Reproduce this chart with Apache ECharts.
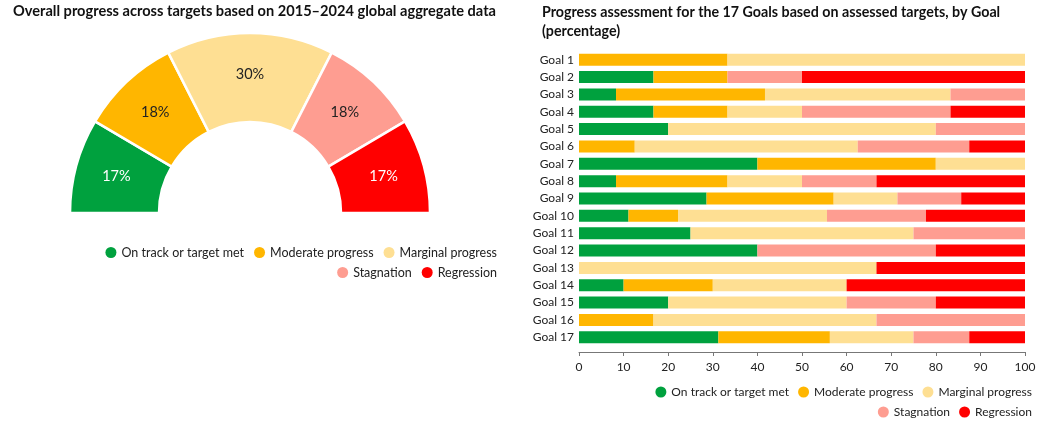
<!DOCTYPE html>
<html>
<head>
<meta charset="utf-8">
<script src="https://cdn.jsdelivr.net/npm/echarts@6/dist/echarts.min.js"></script>
<style>
  html, body { margin: 0; padding: 0; background: #fff; }
  #chart { width: 1039px; height: 427px; }
</style>
</head>
<body>
<div id="chart"></div>
<script>
// 状态分类 + 颜色
const statuses = ['On track or target met', 'Moderate progress', 'Marginal progress', 'Stagnation', 'Regression']
const colors = ['#00a13e', '#ffb600', '#fedf93', '#fe9d91', '#ff0000']

// 左：全球汇总（%）
const overallPct = [17, 18, 30, 18, 17]

// 右：各目标分布（%），按 Goal 1..17
const goals = ['Goal 1', 'Goal 2', 'Goal 3', 'Goal 4', 'Goal 5', 'Goal 6', 'Goal 7', 'Goal 8', 'Goal 9',
  'Goal 10', 'Goal 11', 'Goal 12', 'Goal 13', 'Goal 14', 'Goal 15', 'Goal 16', 'Goal 17']
const onTrack    = [0, 16.7, 8.3, 16.7, 20, 0, 40, 8.3, 28.6, 11.1, 25, 40, 0, 10, 20, 0, 31.25]
const moderate   = [33.3, 16.6, 33.4, 16.6, 0, 12.5, 40, 25, 28.5, 11.1, 0, 0, 0, 20, 0, 16.7, 25]
const marginal   = [66.7, 0, 41.6, 16.7, 60, 50, 20, 16.7, 14.3, 33.4, 50, 0, 66.7, 30, 40, 50, 18.75]
const stagnation = [0, 16.7, 16.7, 33.3, 20, 25, 0, 16.7, 14.3, 22.2, 25, 40, 0, 0, 20, 33.3, 12.5]
const regression = [0, 50, 0, 16.7, 0, 12.5, 0, 33.3, 14.3, 22.2, 0, 20, 33.3, 40, 20, 0, 12.5]
const xTicks = [0, 10, 20, 30, 40, 50, 60, 70, 80, 90, 100]

const FONT = 'Lato, "Noto Sans", sans-serif'
const chart = echarts.init(document.getElementById('chart'), null, { renderer: 'canvas' })

const goalSeries = [onTrack, moderate, marginal, stagnation, regression]
const legendBase = { orient: 'horizontal', icon: 'circle', itemWidth: 11, itemHeight: 11, itemGap: 10 }
const leftText = { color: '#222', fontSize: 12.5, fontFamily: FONT }
const rightText = { color: '#222', fontSize: 12, fontFamily: FONT }

chart.setOption({
  animation: false,
  textStyle: { fontFamily: FONT },
  title: [
    { text: 'Overall progress across targets based on 2015–2024 global aggregate data', left: 8, top: -1,
      textStyle: { fontSize: 14.6, fontWeight: 'bold', color: '#111', fontFamily: FONT } },
    { text: 'Progress assessment for the 17 Goals based on assessed targets, by Goal\n(percentage)', left: 537, top: -2,
      textStyle: { fontSize: 14.25, fontWeight: 'bold', color: '#111', lineHeight: 19, fontFamily: FONT } }
  ],
  color: colors,
  legend: [
    { ...legendBase, textStyle: leftText, data: statuses.slice(0, 3), right: 537, top: 241 },
    { ...legendBase, textStyle: leftText, data: statuses.slice(3), right: 537, top: 261 },
    { ...legendBase, textStyle: rightText, itemGap: 9, data: statuses.slice(0, 3), right: 2, top: 381 },
    { ...legendBase, textStyle: rightText, itemGap: 9, data: statuses.slice(3), right: 2, top: 401 }
  ],
  grid: { left: 579, right: 14, top: 51, bottom: 81 },
  xAxis: {
    type: 'value', min: 0, max: 100, interval: 10, offset: 6,
    axisLine: { show: true, lineStyle: { color: '#777' } },
    axisTick: { show: true, length: 4, lineStyle: { color: '#777' } },
    splitLine: { show: false },
    axisLabel: { color: '#222', fontSize: 12, margin: 9, formatter: (v) => xTicks.includes(v) ? String(v) : '' }
  },
  yAxis: {
    type: 'category', data: goals, inverse: true,
    axisLine: { show: false }, axisTick: { show: false },
    axisLabel: { color: '#222', fontSize: 12, margin: 5 }
  },
  series: [
    {
      type: 'pie', name: 'overall', center: [250, 213], radius: [91, 180],
      startAngle: 180, endAngle: 0, avoidLabelOverlap: false,
      itemStyle: { borderColor: '#fff', borderWidth: 2.5 },
      label: {
        show: true, position: 'inside', formatter: '{c}%', fontSize: 14.5, fontFamily: FONT,
        color: '#222'
      },
      labelLine: { show: false },
      emphasis: { disabled: true },
      data: statuses.map((s, i) => ({
        name: s, value: overallPct[i], itemStyle: { color: colors[i] },
        label: { color: (i === 0 || i === 4) ? '#fff' : '#222' }
      }))
    },
    ...statuses.map((s, i) => ({
      type: 'bar', name: s, stack: 'goal', barWidth: 12,
      itemStyle: { color: colors[i] },
      emphasis: { disabled: true },
      data: goalSeries[i]
    }))
  ]
})
</script>
</body>
</html>
